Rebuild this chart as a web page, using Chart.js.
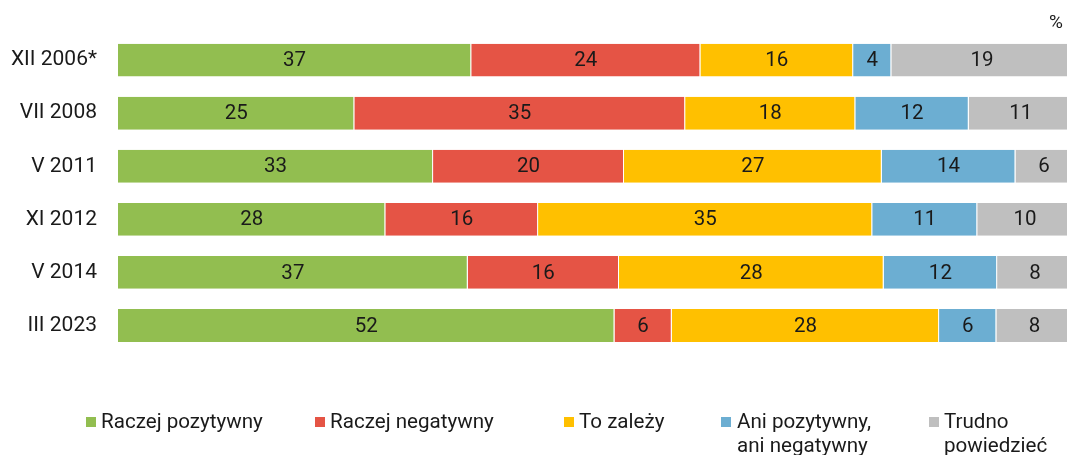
<!DOCTYPE html>
<html>
<head>
<meta charset="utf-8">
<script src="https://cdn.jsdelivr.net/npm/chart.js@4/dist/chart.umd.min.js"></script>
<style>
html,body{margin:0;padding:0;background:#fff;}
#wrap{position:relative;width:1067px;height:455px;overflow:hidden;font-family:Roboto,sans-serif;color:#1a1a1a;}
#c{position:absolute;left:0;top:0;}
.pct{position:absolute;left:1049px;top:11px;font-size:19px;line-height:22px;}
.lg{position:absolute;top:409px;font-size:20.6px;line-height:24px;white-space:nowrap;}
.mk{position:absolute;top:417px;width:10px;height:10px;}
</style>
</head>
<body>
<div id="wrap">
<canvas id="c" width="1067" height="455"></canvas>
<div class="pct">%</div>
<div id="legend"></div>
</div>
<script>
const categories = ["XII 2006*", "VII 2008", "V 2011", "XI 2012", "V 2014", "III 2023"];
const seriesNames = ["Raczej pozytywny", "Raczej negatywny", "To zależy", "Ani pozytywny,\nani negatywny", "Trudno\npowiedzieć"];
const pozytywny = [37, 25, 33, 28, 37, 52];
const negatywny = [24, 35, 20, 16, 16, 6];
const toZalezy = [16, 18, 27, 35, 28, 28];
const aniAni = [4, 12, 14, 11, 12, 6];
const trudno = [19, 11, 6, 10, 8, 8];
const colors = ["#92BE50", "#E55445", "#FFC000", "#6CAED2", "#BFBFBF"];

const series = [pozytywny, negatywny, toZalezy, aniAni, trudno];
const totals = categories.map((_, i) => series.reduce((s, a) => s + a[i], 0));

const datasets = series.map((arr, k) => ({
  label: seriesNames[k],
  raw: arr,
  data: arr.map((v, i) => v / totals[i] * 100),
  backgroundColor: colors[k],
  borderColor: "#ffffff",
  borderWidth: {top: 0, bottom: 0, left: 0, right: 1},
  borderSkipped: false,
  barPercentage: 0.62,
  categoryPercentage: 1.0
}));

const valueLabels = {
  id: "valueLabels",
  afterDatasetsDraw(chart) {
    const ctx = chart.ctx;
    const area = chart.chartArea;
    ctx.save();
    ctx.font = "20.5px Roboto";
    ctx.fillStyle = "#1a1a1a";
    ctx.textAlign = "center";
    ctx.textBaseline = "middle";
    chart.data.datasets.forEach((ds, di) => {
      const meta = chart.getDatasetMeta(di);
      meta.data.forEach((bar, i) => {
        const right = Math.min(bar.x, area.right + 6);
        const x = (right + bar.base) / 2;
        ctx.fillText(String(ds.raw[i]), x, bar.y + 1);
      });
    });
    ctx.restore();
  }
};

new Chart(document.getElementById("c"), {
  type: "bar",
  data: {labels: categories, datasets},
  options: {
    indexAxis: "y",
    responsive: false,
    animation: false,
    layout: {padding: {top: 32, bottom: 103, left: 0, right: 0}},
    plugins: {legend: {display: false}, tooltip: {enabled: false}},
    scales: {
      x: {stacked: true, min: 0, max: 99.4, display: false},
      y: {
        stacked: true,
        grid: {display: false, drawTicks: false},
        border: {display: false},
        ticks: {padding: 21, color: "#1a1a1a", font: {family: "Roboto", size: 21}},
        afterFit(scale) { scale.width = 118; }
      }
    }
  },
  plugins: [valueLabels]
});

const markerX = [86, 315, 564, 721, 929];
const textX = [101, 330, 579, 737, 944];
const lg = document.getElementById("legend");
seriesNames.forEach((name, k) => {
  const m = document.createElement("div");
  m.className = "mk";
  m.style.left = markerX[k] + "px";
  m.style.background = colors[k];
  lg.appendChild(m);
  const t = document.createElement("div");
  t.className = "lg";
  t.style.left = textX[k] + "px";
  t.innerHTML = name.split("\n").join("<br>");
  lg.appendChild(t);
});
</script>
</body>
</html>
